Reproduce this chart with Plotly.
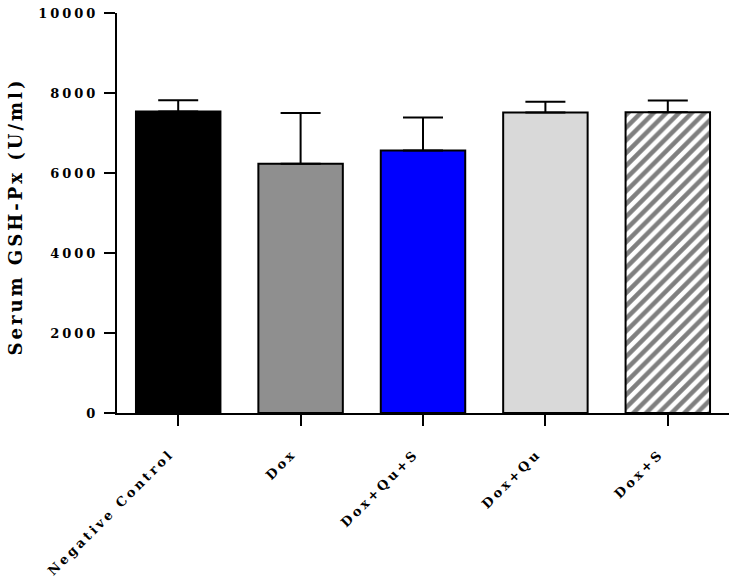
import plotly.graph_objects as go

categories = ["Negative Control", "Dox", "Dox+Qu+S", "Dox+Qu", "Dox+S"]
means = [7540, 6230, 6560, 7510, 7520]
sem = [280, 1270, 830, 270, 290]
fill_colors = ["#000000", "#8f8f8f", "#0000ff", "#d9d9d9", "#ffffff"]
patterns = ["", "", "", "", "/"]
y_ticks = [0, 2000, 4000, 6000, 8000, 10000]
y_title = "Serum GSH-Px (U/ml)"

FONT = "DejaVu Serif, Liberation Serif, serif"

fig = go.Figure()
for i, cat in enumerate(categories):
    marker = dict(color=fill_colors[i], line=dict(color="black", width=2))
    if patterns[i]:
        marker["pattern"] = dict(shape=patterns[i], fgcolor="black",
                                 bgcolor="white", size=9, solidity=0.5,
                                 fillmode="overlay")
    fig.add_trace(go.Bar(
        x=[i], y=[means[i]], width=0.69, name=cat,
        marker=marker,
        error_y=dict(type="data", symmetric=False, array=[sem[i]],
                     arrayminus=[0], color="black", thickness=2, width=20),
        showlegend=False,
    ))

fig.update_layout(
    width=735, height=579,
    margin=dict(l=117, r=6, t=6, b=166),
    plot_bgcolor="white", paper_bgcolor="white",
    barmode="overlay",
    font=dict(family=FONT, color="black", weight="bold"),
    xaxis=dict(
        range=[-0.5, 4.5],
        tickmode="array",
        tickvals=list(range(len(categories))),
        ticktext=categories,
        tickangle=-45,
        ticks="outside", ticklen=11, tickwidth=2, tickcolor="black",
        showline=True, linecolor="black", linewidth=2,
        showgrid=False, zeroline=False,
        ticklabelstandoff=15,
        ticklabelshift=-8,
        tickfont=dict(family=FONT, size=13, weight="bold"),
    ),
    yaxis=dict(
        range=[0, 10000],
        tickmode="array",
        tickvals=y_ticks,
        ticktext=[str(v) for v in y_ticks],
        ticks="outside", ticklen=11, tickwidth=2, tickcolor="black",
        showline=True, linecolor="black", linewidth=2,
        showgrid=False, zeroline=False,
        ticklabeloverflow="allow",
        ticklabelstandoff=3,
        tickfont=dict(family=FONT, size=13, weight="bold"),
    ),
    annotations=[dict(
        text=y_title, textangle=-90,
        xref="paper", yref="paper", x=0, y=0.49,
        xanchor="center", yanchor="middle", xshift=-102,
        showarrow=False,
        font=dict(family=FONT, size=18, weight="bold", color="black"),
    )],
)

post = """
document.body.style.margin = '0';
document.body.style.padding = '0';
var s = document.createElement('style');
s.textContent = 'body{margin:0;padding:0;} .ytick text{letter-spacing:3px;} .xtick text{letter-spacing:3px;} .annotation-text{letter-spacing:3px;}';
document.head.appendChild(s);
"""

fig.write_html("out.html", post_script=post, config={"displayModeBar": False})
